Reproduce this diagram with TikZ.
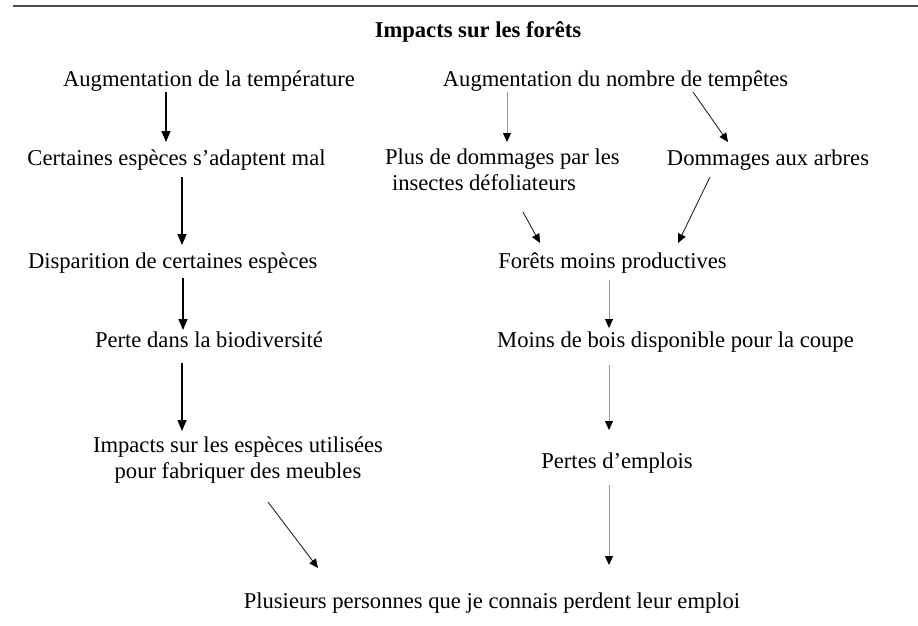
\documentclass[tikz,border=0pt]{standalone}
\usepackage{fontspec}
\setmainfont{Liberation Serif}
\usetikzlibrary{arrows.meta}
\begin{document}
\begin{tikzpicture}[x=1pt,y=-1pt,
  every node/.style={inner sep=0pt,outer sep=0pt,anchor=base,font=\fontsize{22.6}{25.5}\selectfont},
  thickarr/.style={draw=black,line width=1.4pt,-{Triangle[width=9pt,length=11pt]}},
  thinarr/.style={draw=black!40,line width=0.8pt,-{Triangle[width=8pt,length=9pt,color=black]}},
  diagarr/.style={draw=black!85,line width=0.9pt,-{Triangle[width=8pt,length=9pt,color=black]}}]
\useasboundingbox (0,0) rectangle (918,625);
\draw[draw=black!70,line width=1.6pt] (13,6) -- (918,6);
\node[font=\fontsize{22.6}{25.5}\selectfont\bfseries] (title) at (478,37) {Impacts sur les forêts};
\node (n1) at (209,86) {Augmentation de la température};
\node (n2) at (615.5,86) {Augmentation du nombre de tempêtes};
\node (n3) at (176.5,165) {Certaines espèces s’adaptent mal};
\node[anchor=base west,align=left] (n4) at (385,190) {Plus de dommages par les\\\hspace*{7pt}insectes défoliateurs};
\node (n5) at (768,165) {Dommages aux arbres};
\node (n6) at (172.7,268) {Disparition de certaines espèces};
\node (n7) at (612.5,268) {Forêts moins productives};
\node (n8) at (209,347) {Perte dans la biodiversité};
\node (n9) at (675.5,347) {Moins de bois disponible pour la coupe};
\node[align=center,font=\fontsize{22.6}{26}\selectfont] (n10) at (238,478) {Impacts sur les espèces utilisées\\pour fabriquer des meubles};
\node (n11) at (617,468) {Pertes d’emplois};
\node (n12) at (492,608) {Plusieurs personnes que je connais perdent leur emploi};
% left column
\draw[thickarr] ([xshift=-43pt,yshift=-6pt]n1.base) -- ([xshift=-10.5pt,yshift=23pt]n3.base);
\draw[thickarr] ([xshift=5.5pt,yshift=-12pt]n3.base) -- ([xshift=9.3pt,yshift=23pt]n6.base);
\draw[thickarr] ([xshift=10.3pt,yshift=-10pt]n6.base) -- ([xshift=-26pt,yshift=17pt]n8.base);
\draw[thickarr] ([xshift=-27pt,yshift=-16pt]n8.base) -- ([xshift=-56pt,yshift=47pt]n10.base);
% right column
\draw[thinarr] ([xshift=-108.5pt,yshift=-6pt]n2.base) -- ([xshift=122pt,yshift=48pt]n4.base west);
\draw[diagarr] ([xshift=77.5pt,yshift=-6pt]n2.base) -- ([xshift=-40pt,yshift=23pt]n5.base);
\draw[diagarr] ([xshift=138pt,yshift=-22pt]n4.base west) -- ([xshift=-72.5pt,yshift=25pt]n7.base);
\draw[diagarr] ([xshift=-58pt,yshift=-12pt]n5.base) -- ([xshift=65.5pt,yshift=25pt]n7.base);
\draw[thinarr] ([xshift=-3.5pt,yshift=-12pt]n7.base) -- ([xshift=-66.5pt,yshift=19pt]n9.base);
\draw[thinarr] ([xshift=-66.5pt,yshift=-18pt]n9.base) -- ([xshift=-8pt,yshift=38pt]n11.base);
\draw[thinarr] ([xshift=-8pt,yshift=-17pt]n11.base) -- ([xshift=117pt,yshift=43pt]n12.base);
\draw[diagarr] ([xshift=30pt,yshift=-24pt]n10.base) -- ([xshift=-174pt,yshift=40pt]n12.base);
\end{tikzpicture}
\end{document}
